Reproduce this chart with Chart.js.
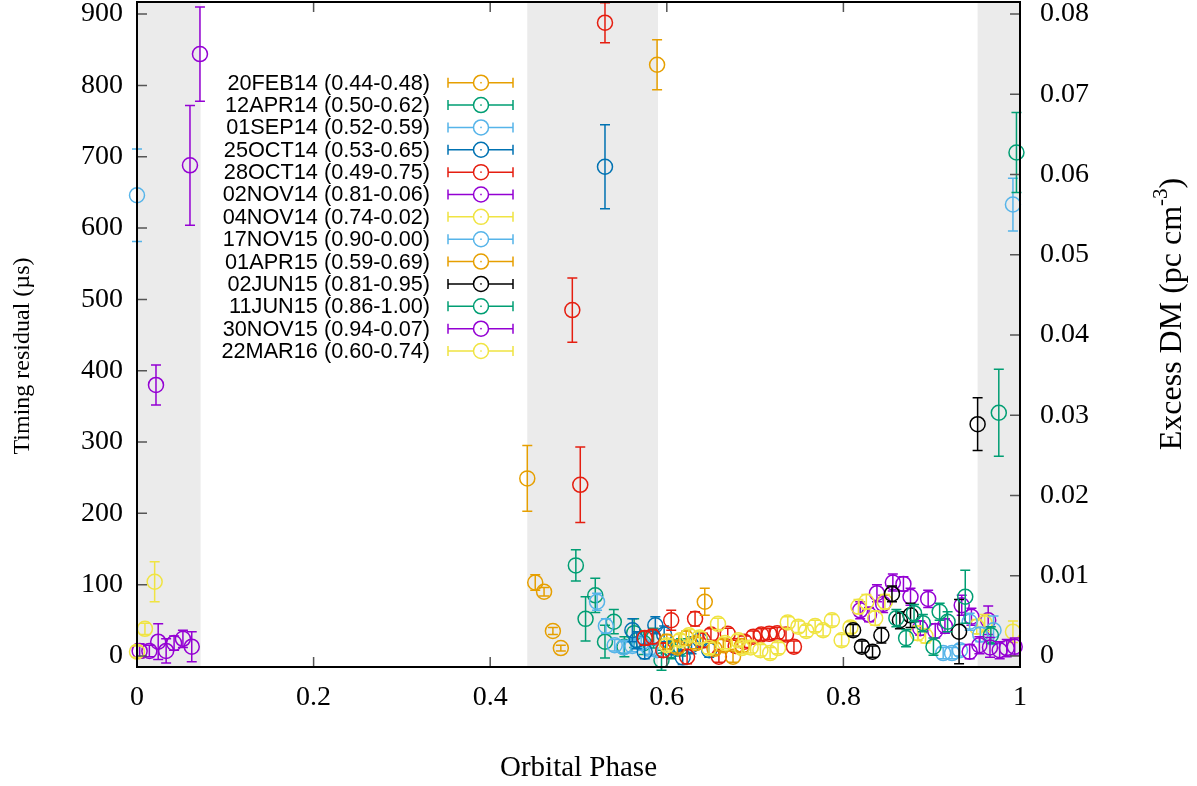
<!DOCTYPE html>
<html>
<head>
<meta charset="utf-8">
<script src="https://cdn.jsdelivr.net/npm/chart.js@4.4.1/dist/chart.umd.min.js"></script>
<style>
html,body{margin:0;padding:0;background:#fff;}
#c{display:block;}
</style>
</head>
<body>
<canvas id="c" width="1197" height="786"></canvas>
<script>
// ---------------- DATA ----------------
const seriesLabels = ["20FEB14 (0.44-0.48)","12APR14 (0.50-0.62)","01SEP14 (0.52-0.59)","25OCT14 (0.53-0.65)","28OCT14 (0.49-0.75)","02NOV14 (0.81-0.06)","04NOV14 (0.74-0.02)","17NOV15 (0.90-0.00)","01APR15 (0.59-0.69)","02JUN15 (0.81-0.95)","11JUN15 (0.86-1.00)","30NOV15 (0.94-0.07)","22MAR16 (0.60-0.74)"];
const seriesColors = ["#e69f00","#009e73","#56b4e9","#0072b2","#e51e10","#9400d3","#f0e442","#56b4e9","#e69f00","#000000","#009e73","#9400d3","#f0e442"];

const phase_20FEB14 = [0.442,0.451,0.461,0.471,0.480];
const resid_20FEB14 = [249,103,90,35,11];
const err_20FEB14   = [46,11,6,5,4];

const phase_12APR14 = [0.497,0.508,0.519,0.530,0.540,0.552,0.563,0.574,0.585,0.594,0.605,0.616];
const resid_12APR14 = [127,52,85,20,48,13,32,18,25,-6,8,12];
const err_12APR14   = [22,31,24,23,17,14,20,16,14,14,12,12];

const phase_01SEP14 = [0.521,0.531,0.541,0.551,0.561,0.571,0.580,0.589];
const resid_01SEP14 = [76,42,15,12,14,18,10,8];
const err_01SEP14   = [12,10,8,8,8,8,8,8];

const phase_25OCT14 = [0.530,0.561,0.566,0.575,0.587,0.597,0.607,0.618,0.628,0.638,0.648];
const resid_25OCT14 = [686,36,22,6,43,30,12,-2,15,22,8];
const err_25OCT14   = [59,16,12,10,12,12,10,10,12,10,10];

const phase_28OCT14 = [0.493,0.502,0.530,0.575,0.584,0.596,0.605,0.623,0.632,0.641,0.650,0.659,0.669,0.678,0.688,0.698,0.707,0.716,0.725,0.735,0.744];
const resid_28OCT14 = [485,240,888,25,27,8,50,-1,52,22,30,-1,31,14,20,27,30,31,32,30,13];
const err_28OCT14   = [45,53,28,10,10,10,14,10,10,10,8,8,8,8,8,8,8,8,8,8,8];

const phase_02NOV14 = [0.819,0.829,0.838,0.845,0.856,0.868,0.876,0.887,0.896,0.904,0.915,0.934,0.945,0.964,0.003,0.014,0.024,0.033,0.042,0.052];
const resid_02NOV14 = [64,58,88,73,103,101,83,39,80,35,42,71,55,50,7,7,20,7,18,24];
const err_02NOV14   = [12,10,12,12,12,10,12,10,12,10,10,14,12,20,10,8,25,17,10,12];

const phase_04NOV14 = [0.749,0.758,0.768,0.777,0.787,0.798,0.808,0.817,0.826,0.836,0.847,0.884,0.893,0.951,0.960,0.992,0.000,0.009,0.020];
const resid_04NOV14 = [41,35,42,36,50,22,40,69,76,53,76,32,28,41,46,34,6,38,104];
const err_04NOV14   = [8,8,8,8,8,8,8,10,10,10,10,10,10,10,12,15,8,8,28];

const phase_17NOV15 = [0.913,0.923,0.932,0.943,0.955,0.970,0.992,0.000];
const resid_17NOV15 = [4,4,8,48,30,36,633,646];
const err_17NOV15   = [8,8,8,12,10,20,37,65];

const phase_01APR15 = [0.589,0.600,0.612,0.622,0.633,0.643,0.654,0.664,0.675,0.685];
const resid_01APR15 = [829,20,12,25,18,76,10,15,-1,14];
const err_01APR15   = [35,10,8,10,8,19,8,8,8,8];

const phase_02JUN15 = [0.811,0.821,0.833,0.843,0.855,0.864,0.876,0.931,0.952];
const resid_02JUN15 = [36,13,6,29,87,50,57,34,325];
const err_02JUN15   = [8,8,8,11,11,12,17,45,37];

const phase_11JUN15 = [0.860,0.871,0.880,0.890,0.902,0.909,0.918,0.938,0.967,0.976,0.996];
const resid_11JUN15 = [53,25,60,46,13,62,48,83,29,341,706];
const err_11JUN15   = [12,12,12,12,12,12,14,37,12,61,56];

const phase_30NOV15 = [0.943,0.954,0.966,0.977,0.985,0.994,0.062,0.0215,0.060,0.0713];
const resid_30NOV15 = [6,15,12,8,11,13,13,380,688,844];
const err_30NOV15   = [10,12,14,12,12,12,21,28,84,66];

const phase_22MAR16 = [0.600,0.615,0.625,0.637,0.648,0.658,0.666,0.681,0.685,0.695,0.706,0.717,0.726,0.737];
const resid_22MAR16 = [15,22,29,26,11,45,18,22,11,12,8,4,11,47];
const err_22MAR16   = [8,8,8,8,8,8,8,8,8,8,8,8,8,8];

const seriesPhase = [phase_20FEB14,phase_12APR14,phase_01SEP14,phase_25OCT14,phase_28OCT14,phase_02NOV14,phase_04NOV14,phase_17NOV15,phase_01APR15,phase_02JUN15,phase_11JUN15,phase_30NOV15,phase_22MAR16];
const seriesResid = [resid_20FEB14,resid_12APR14,resid_01SEP14,resid_25OCT14,resid_28OCT14,resid_02NOV14,resid_04NOV14,resid_17NOV15,resid_01APR15,resid_02JUN15,resid_11JUN15,resid_30NOV15,resid_22MAR16];
const seriesErr   = [err_20FEB14,err_12APR14,err_01SEP14,err_25OCT14,err_28OCT14,err_02NOV14,err_04NOV14,err_17NOV15,err_01APR15,err_02JUN15,err_11JUN15,err_30NOV15,err_22MAR16];

const shadeStart = [0.0, 0.442, 0.952];
const shadeEnd   = [0.072, 0.590, 1.0];

const xTicks = [0,0.2,0.4,0.6,0.8,1];
const xTickLabels = ["0","0.2","0.4","0.6","0.8","1"];
const yTicks = [0,100,200,300,400,500,600,700,800,900];
const yTickLabels = ["0","100","200","300","400","500","600","700","800","900"];
const y2Ticks = [0,0.01,0.02,0.03,0.04,0.05,0.06,0.07,0.08];
const y2TickLabels = ["0","0.01","0.02","0.03","0.04","0.05","0.06","0.07","0.08"];

const yMin = -15.5, yMax = 917;
const usPerDM = 11250; // 900 us <-> 0.08 pc cm^-3 on the twin axis

// ---------------- CHART ----------------
const SERIF = "'Liberation Serif','Times New Roman',serif";
const SANS = "'Liberation Sans',Arial,sans-serif";
const PT_R = 7.5, CAP = 5, LW = 1.5;
const TICK_FONT = 28;

const datasets = seriesLabels.map((lab,i)=>({
  label: lab,
  data: seriesPhase[i].map((x,j)=>({x:x, y:seriesResid[i][j], e:seriesErr[i][j]})),
  showLine:false,
  pointStyle:'circle',
  pointRadius:PT_R,
  pointHoverRadius:PT_R,
  pointBorderWidth:LW,
  borderColor:seriesColors[i],
  backgroundColor:'rgba(0,0,0,0)',
  pointBackgroundColor:'rgba(0,0,0,0)',
  clip:false,
  order: seriesLabels.length - i
}));

function setTicks(vals){ return function(scale){ scale.ticks = vals.map(v=>({value:v})); }; }
function labelFrom(vals, labels){ return function(value){ const k = vals.findIndex(v=>Math.abs(v-value)<1e-9); return k>=0 ? labels[k] : ''; }; }

const decor = {
  id:'decor',
  beforeDatasetsDraw(chart){
    const ctx = chart.ctx, a = chart.chartArea, xs = chart.scales.x;
    ctx.save();
    ctx.fillStyle = '#ebebeb';
    for(let i=0;i<shadeStart.length;i++){
      const x0 = xs.getPixelForValue(shadeStart[i]);
      const x1 = xs.getPixelForValue(shadeEnd[i]);
      ctx.fillRect(x0, a.top, x1-x0, a.bottom-a.top);
    }
    ctx.restore();
  },
  afterDatasetDraw(chart, args){
    const i = args.index;
    const ctx = chart.ctx, xs = chart.scales.x, ys = chart.scales.y;
    ctx.save();
    ctx.strokeStyle = seriesColors[i];
    ctx.lineWidth = LW;
    ctx.beginPath();
    for(let j=0;j<seriesPhase[i].length;j++){
      const px = xs.getPixelForValue(seriesPhase[i][j]);
      const yl = ys.getPixelForValue(seriesResid[i][j]-seriesErr[i][j]);
      const yh = ys.getPixelForValue(seriesResid[i][j]+seriesErr[i][j]);
      ctx.moveTo(px, yl); ctx.lineTo(px, yh);
      ctx.moveTo(px-CAP, yl); ctx.lineTo(px+CAP, yl);
      ctx.moveTo(px-CAP, yh); ctx.lineTo(px+CAP, yh);
    }
    ctx.stroke();
    ctx.restore();
  },
  afterDraw(chart){
    const ctx = chart.ctx, a = chart.chartArea;
    const xs = chart.scales.x, ys = chart.scales.y, y2 = chart.scales.y2;
    ctx.save();
    // ticks (inward, mirrored on top)
    ctx.strokeStyle = '#555';
    ctx.lineWidth = 1.5;
    ctx.beginPath();
    const TL = 10;
    xTicks.forEach(v=>{
      const p = xs.getPixelForValue(v);
      ctx.moveTo(p, a.bottom); ctx.lineTo(p, a.bottom-TL);
      ctx.moveTo(p, a.top); ctx.lineTo(p, a.top+TL);
    });
    yTicks.forEach(v=>{
      const p = ys.getPixelForValue(v);
      ctx.moveTo(a.left, p); ctx.lineTo(a.left+TL, p);
    });
    y2Ticks.forEach(v=>{
      const p = y2.getPixelForValue(v);
      ctx.moveTo(a.right, p); ctx.lineTo(a.right-TL, p);
    });
    ctx.stroke();
    // border
    ctx.strokeStyle = '#000';
    ctx.lineWidth = 2;
    ctx.strokeRect(a.left, a.top, a.right-a.left, a.bottom-a.top);

    // axis titles
    ctx.fillStyle = '#000';
    ctx.textAlign = 'center';
    ctx.textBaseline = 'middle';
    ctx.font = '29px ' + SERIF;
    ctx.fillText('Orbital Phase', (a.left+a.right)/2, 768);

    ctx.save();
    ctx.translate(23, 356);
    ctx.rotate(-Math.PI/2);
    ctx.font = '24px ' + SERIF;
    ctx.fillText('Timing residual (\u00b5s)', 0, 0);
    ctx.restore();

    ctx.save();
    ctx.translate(1173, 314);
    ctx.rotate(-Math.PI/2);
    const main = 'Excess DM (pc cm';
    const sup = '-3';
    const close = ')';
    const F = 32, FS = 21;
    ctx.font = F + 'px ' + SERIF;
    const wMain = ctx.measureText(main).width;
    const wClose = ctx.measureText(close).width;
    ctx.font = FS + 'px ' + SERIF;
    const wSup = ctx.measureText(sup).width;
    const total = wMain + wSup + wClose;
    let sx = -total/2;
    ctx.textAlign = 'left';
    ctx.font = F + 'px ' + SERIF;
    ctx.fillText(main, sx, 0); sx += wMain;
    ctx.font = FS + 'px ' + SERIF;
    ctx.fillText(sup, sx, -12); sx += wSup;
    ctx.font = F + 'px ' + SERIF;
    ctx.fillText(close, sx, 0);
    ctx.restore();

    // legend
    ctx.font = '21.7px ' + SANS;
    ctx.textAlign = 'right';
    ctx.textBaseline = 'middle';
    const lx = 430, l0 = 448, l1 = 513, lc = 481, ry0 = 82.7, dy = 22.36;
    seriesLabels.forEach((lab,i)=>{
      const yy = ry0 + i*dy;
      ctx.fillStyle = '#000';
      ctx.fillText(lab, lx, yy+1);
      ctx.strokeStyle = seriesColors[i];
      ctx.lineWidth = LW;
      ctx.beginPath();
      ctx.moveTo(l0, yy); ctx.lineTo(lc-PT_R, yy);
      ctx.moveTo(lc+PT_R, yy); ctx.lineTo(l1, yy);
      ctx.moveTo(l0, yy-5); ctx.lineTo(l0, yy+5);
      ctx.moveTo(l1, yy-5); ctx.lineTo(l1, yy+5);
      ctx.stroke();
      ctx.beginPath();
      ctx.arc(lc, yy, PT_R, 0, Math.PI*2);
      ctx.stroke();
      ctx.fillStyle = seriesColors[i];
      ctx.fillRect(lc-0.75, yy-0.75, 1.5, 1.5);
    });
    ctx.restore();
  }
};

new Chart(document.getElementById('c').getContext('2d'), {
  type:'scatter',
  data:{datasets:datasets},
  options:{
    responsive:false,
    animation:false,
    devicePixelRatio:1,
    layout:{autoPadding:false, padding:{top:2,left:0,right:0,bottom:0}},
    plugins:{legend:{display:false}, tooltip:{enabled:false}},
    events:[],
    scales:{
      x:{
        type:'linear', position:'bottom', min:0, max:1,
        grid:{display:false, drawTicks:false}, border:{display:false},
        afterBuildTicks:setTicks(xTicks),
        afterFit(s){ s.height = 119; s.paddingLeft = 0; s.paddingRight = 0; },
        ticks:{color:'#000', font:{family:SERIF, size:TICK_FONT}, padding:14, maxRotation:0, autoSkip:false,
          callback:labelFrom(xTicks,xTickLabels)}
      },
      y:{
        type:'linear', position:'left', min:yMin, max:yMax,
        grid:{display:false, drawTicks:false}, border:{display:false},
        afterBuildTicks:setTicks(yTicks),
        afterFit(s){ s.width = 137; s.paddingTop = 0; s.paddingBottom = 0; },
        ticks:{color:'#000', font:{family:SERIF, size:TICK_FONT}, padding:14, autoSkip:false,
          callback:labelFrom(yTicks,yTickLabels)}
      },
      y2:{
        type:'linear', position:'right', min:yMin/usPerDM, max:yMax/usPerDM,
        grid:{display:false, drawTicks:false}, border:{display:false},
        afterBuildTicks:setTicks(y2Ticks),
        afterFit(s){ s.width = 177; s.paddingTop = 0; s.paddingBottom = 0; },
        ticks:{color:'#000', font:{family:SERIF, size:TICK_FONT}, padding:20, autoSkip:false,
          callback:labelFrom(y2Ticks,y2TickLabels)}
      }
    }
  },
  plugins:[decor]
});
</script>
</body>
</html>
